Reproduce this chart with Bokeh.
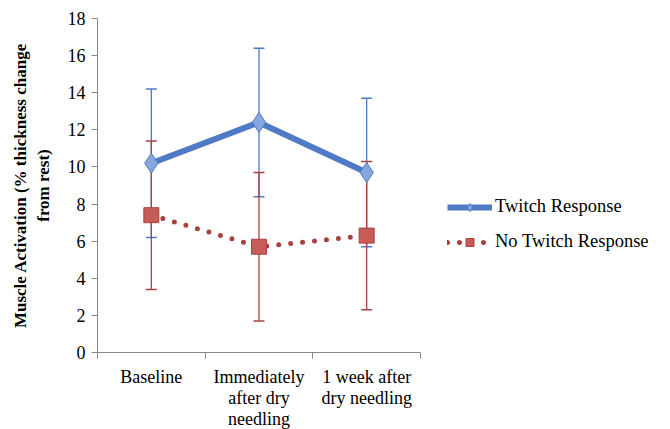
from bokeh.plotting import figure
from bokeh.models import FixedTicker, Legend, LegendItem
from bokeh.embed import file_html
from bokeh.resources import INLINE

categories = ["Baseline", "Immediately\nafter dry\nneedling", "1 week after\ndry needling"]
twitch = [10.2, 12.4, 9.7]
twitch_err = [4.0, 4.0, 4.0]
no_twitch = [7.4, 5.7, 6.3]
no_twitch_err = [4.0, 4.0, 4.0]
y_ticks = [0, 2, 4, 6, 8, 10, 12, 14, 16, 18]

xs = list(range(1, len(categories) + 1))
FONT = "'Liberation Serif', 'Times New Roman', serif"
BLUE = "#4F7AC6"
BLUE_FILL = "#86A6E0"
RED = "#A8423F"
RED_FILL = "#C65B57"

p = figure(frame_width=323, frame_height=334, x_range=(0.5, 3.5), y_range=(0, 18),
           output_backend="svg", toolbar_location=None,
           min_border_left=97, min_border_top=18, min_border_bottom=76, min_border_right=10)
p.outline_line_color = None
p.xgrid.visible = False
p.ygrid.visible = False

# axes
p.xaxis.ticker = FixedTicker(ticks=xs, minor_ticks=[0.5, 1.5, 2.5, 3.5])
p.xaxis.major_label_overrides = {i + 1: c for i, c in enumerate(categories)}
p.xaxis.major_tick_line_color = None
p.xaxis.minor_tick_line_color = "#888888"
p.xaxis.minor_tick_out = 6
p.xaxis.minor_tick_in = 0
p.xaxis.axis_line_color = "#888888"
p.xaxis.major_label_text_font = FONT
p.xaxis.major_label_text_font_size = "18px"
p.xaxis.major_label_text_color = "#000000"
p.xaxis.major_label_standoff = 8
p.xaxis.major_label_text_line_height = 1.05

p.yaxis.ticker = FixedTicker(ticks=y_ticks, minor_ticks=[])
p.yaxis.axis_line_color = "#888888"
p.yaxis.major_tick_line_color = "#888888"
p.yaxis.major_tick_out = 6
p.yaxis.major_tick_in = 0
p.yaxis.minor_tick_line_color = None
p.yaxis.major_label_text_font = FONT
p.yaxis.major_label_text_font_size = "18px"
p.yaxis.major_label_text_color = "#000000"
p.yaxis.major_label_standoff = 6
p.yaxis.axis_label = "Muscle Activation (% thickness change\nfrom rest)"
p.yaxis.axis_label_text_font = FONT
p.yaxis.axis_label_text_font_style = "bold"
p.yaxis.axis_label_text_font_size = "17px"
p.yaxis.axis_label_text_color = "#000000"
p.yaxis.axis_label_standoff = 12

# error bars
def err_bars(vals, errs, color):
    lo = [v - e for v, e in zip(vals, errs)]
    hi = [v + e for v, e in zip(vals, errs)]
    p.segment(x0=xs, y0=lo, x1=xs, y1=hi, line_color=color, line_width=1.3)
    p.dash(x=xs + xs, y=lo + hi, size=11, line_color=color, line_width=1.5)

err_bars(twitch, twitch_err, BLUE)
err_bars(no_twitch, no_twitch_err, RED)

r_nt_line = p.line(xs, no_twitch, line_color=RED, line_width=5, line_dash="0 12", line_cap="round")
r_nt_pts = p.scatter(xs, no_twitch, marker="square", size=15, fill_color=RED_FILL,
                     line_color=RED, line_width=1)
r_t_line = p.line(xs, twitch, line_color=BLUE, line_width=6, line_join="round")
r_t_pts = p.scatter(xs, twitch, marker="diamond", size=20, fill_color=BLUE_FILL,
                    line_color=BLUE, line_width=1)

legend = Legend(items=[LegendItem(label="Twitch Response", renderers=[r_t_line, r_t_pts]),
                       LegendItem(label="No Twitch Response", renderers=[r_nt_line, r_nt_pts])],
                location=(27, 100))
legend.background_fill_alpha = 0
legend.border_line_color = None
legend.label_text_font = FONT
legend.label_text_font_size = "18.5px"
legend.label_text_color = "#000000"
legend.glyph_width = 45
legend.glyph_height = 20
legend.label_standoff = 3
legend.spacing = 14
legend.padding = 0
legend.margin = 0
p.add_layout(legend, "right")

open("out.html", "w").write(file_html(p, INLINE))
